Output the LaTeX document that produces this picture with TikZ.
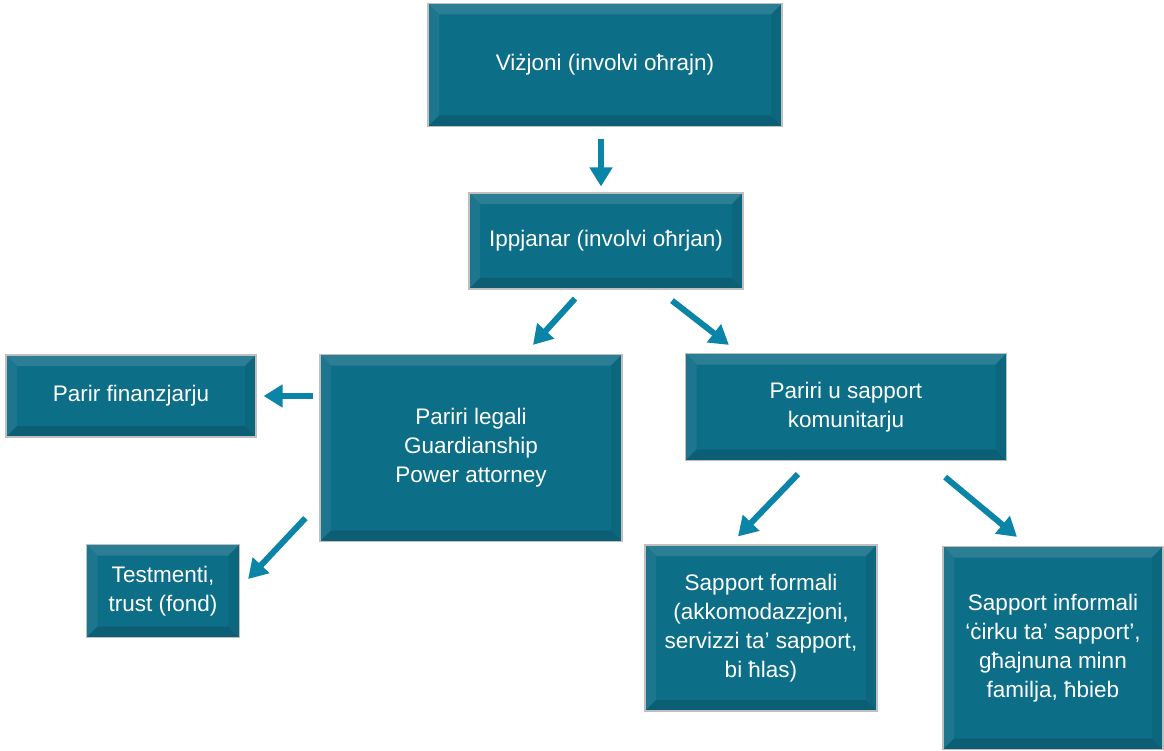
\documentclass[tikz,border=0pt]{standalone}
\usepackage{fontspec}
\setmainfont{Liberation Sans}
\usetikzlibrary{arrows.meta}
\definecolor{tilemid}{HTML}{0D6E88}
\definecolor{tilelight}{HTML}{2C7E94}
\definecolor{tiledark}{HTML}{0B5E73}
\definecolor{arrowblue}{HTML}{0A85A7}
\begin{document}
\begin{tikzpicture}[x=1pt, y=-1pt,
    tile/.style={rectangle, draw=gray!50, line width=1.2pt, fill=tilemid, text=white, align=center,
        inner sep=0pt, font=\fontsize{22.5}{29}\selectfont,
        path picture={
            \path (path picture bounding box.north west) coordinate (nw)
                  (path picture bounding box.north east) coordinate (ne)
                  (path picture bounding box.south west) coordinate (sw)
                  (path picture bounding box.south east) coordinate (se);
            \fill[tilelight] (nw) -- (ne) -- ([shift={(-11pt,-11pt)}]ne) -- ([shift={(11pt,-11pt)}]nw) -- cycle;
            \fill[tilelight!50!tilemid] (nw) -- ([shift={(11pt,-11pt)}]nw) -- ([shift={(11pt,11pt)}]sw) -- (sw) -- cycle;
            \fill[tiledark] (sw) -- (se) -- ([shift={(-11pt,11pt)}]se) -- ([shift={(11pt,11pt)}]sw) -- cycle;
            \fill[tiledark!50!tilemid] (ne) -- (se) -- ([shift={(-11pt,11pt)}]se) -- ([shift={(-11pt,-11pt)}]ne) -- cycle;
        }},
    arrow/.style={-{Triangle[length=19pt,width=22pt]}, line width=6pt, arrowblue}
]
    \useasboundingbox[fill=white] (0,0) rectangle (1164,751);

    % Top levels
    \node[tile, minimum width=354pt, minimum height=123pt] (vision) at (605,65) {Viżjoni (involvi oħrajn)};
    \node[tile, minimum width=274pt, minimum height=96pt] (plan) at (606,241) {Ippjanar (involvi oħrjan)};

    % Middle row
    \node[tile, minimum width=250pt, minimum height=82pt] (finance) at (131,396) {Parir finanzjarju};
    \node[tile, minimum width=302pt, minimum height=187pt] (legal) at (471,448) {Pariri legali\\Guardianship\\Power attorney};
    \node[tile, minimum width=321pt, minimum height=107pt] (community) at (846,407) {Pariri u sapport\\komunitarju};

    % Bottom row
    \node[tile, minimum width=153pt, minimum height=93pt] (wills) at (163,591) {Testmenti,\\trust (fond)};
    \node[tile, minimum width=232pt, minimum height=166pt] (formal) at (761,628) {Sapport formali\\(akkomodazzjoni,\\servizzi ta’ sapport,\\bi ħlas)};
    \node[tile, minimum width=220pt, minimum height=203pt] (informal) at (1053,648) {Sapport informali\\‘ċirku ta’ sapport’,\\għajnuna minn\\familja, ħbieb};

    % Arrows
    \draw[arrow] ([xshift=-4pt,yshift=-12pt]vision.south) -- ([xshift=-5pt,yshift=6pt]plan.north);
    \draw[arrow] ([xshift=-31pt,yshift=-9pt]plan.south) -- ([xshift=62pt,yshift=9pt]legal.north);
    \draw[arrow] ([xshift=66pt,yshift=-11pt]plan.south) -- ([xshift=44pt,yshift=8pt]community.north west);
    \draw[arrow] ([xshift=-6pt,yshift=52pt]legal.west) -- ([xshift=7pt]finance.east);
    \draw[arrow] ([xshift=-14pt,yshift=24pt]legal.south west) -- ([xshift=8pt,yshift=12pt]wills.east);
    \draw[arrow] ([xshift=-48pt,yshift=-13pt]community.south) -- ([xshift=-23pt,yshift=8pt]formal.north);
    \draw[arrow] ([xshift=-62pt,yshift=-16pt]community.south east) -- ([xshift=-36pt,yshift=9pt]informal.north);
\end{tikzpicture}
\end{document}
